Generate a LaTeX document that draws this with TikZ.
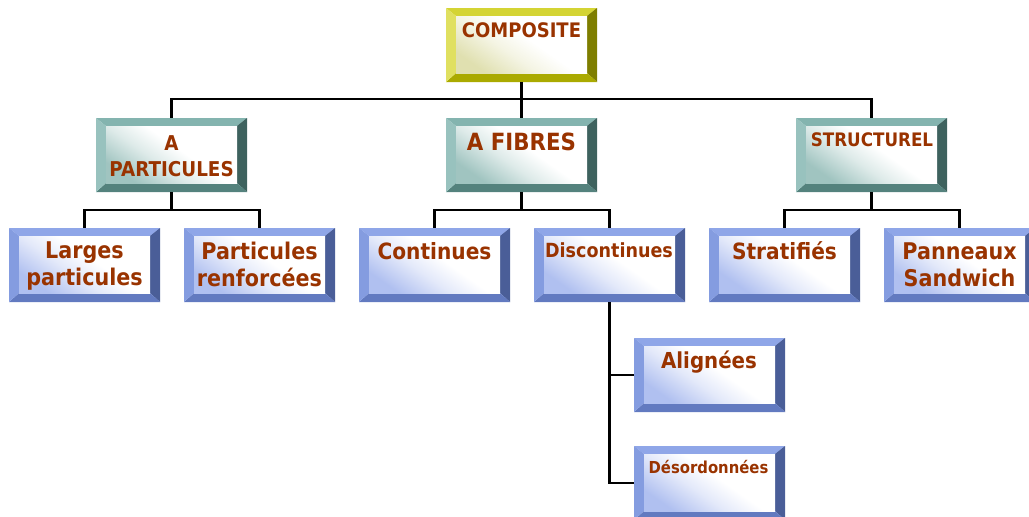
\documentclass[tikz,border=0pt]{standalone}
\usepackage{fontspec}
\newfontfamily\boxfont{DejaVu Sans}[FakeStretch=0.9]
\usetikzlibrary{calc}
\definecolor{txtc}{RGB}{153,51,0}
% blue
\definecolor{blueT}{RGB}{143,166,232}
\definecolor{blueL}{RGB}{132,156,224}
\definecolor{blueB}{RGB}{98,122,192}
\definecolor{blueR}{RGB}{74,94,152}
\definecolor{blueF}{RGB}{176,192,240}
% teal
\definecolor{tealT}{RGB}{132,180,175}
\definecolor{tealL}{RGB}{152,194,190}
\definecolor{tealB}{RGB}{84,130,125}
\definecolor{tealR}{RGB}{62,98,94}
\definecolor{tealF}{RGB}{160,196,192}
% yellow
\definecolor{yelT}{RGB}{212,212,52}
\definecolor{yelL}{RGB}{224,224,96}
\definecolor{yelB}{RGB}{170,170,0}
\definecolor{yelR}{RGB}{126,126,0}
\definecolor{yelF}{RGB}{224,224,176}
\colorlet{facecol}{blueF}
\pgfdeclareverticalshading[facecol]{faceshade}{100bp}{color(0bp)=(facecol); color(25bp)=(facecol); color(42bp)=(facecol!35!white); color(55bp)=(white); color(100bp)=(white)}
\tikzset{
  bev/.style={minimum width=151pt, minimum height=74pt, inner sep=0pt, outer sep=0pt,
    path picture={
      \coordinate (o1) at (path picture bounding box.north west);
      \coordinate (o2) at (path picture bounding box.north east);
      \coordinate (o3) at (path picture bounding box.south east);
      \coordinate (o4) at (path picture bounding box.south west);
      \coordinate (i1) at ($(o1)+(10,8)$);
      \coordinate (i2) at ($(o2)+(-10,8)$);
      \coordinate (i3) at ($(o3)+(-10,-9)$);
      \coordinate (i4) at ($(o4)+(10,-9)$);
      \fill[#1T] (o1) -- (o2) -- (i2) -- (i1) -- cycle;
      \fill[#1R] (o2) -- (o3) -- (i3) -- (i2) -- cycle;
      \fill[#1B] (o3) -- (o4) -- (i4) -- (i3) -- cycle;
      \fill[#1L] (o4) -- (o1) -- (i1) -- (i4) -- cycle;
      \colorlet{facecol}{#1F}
      \shade[shading=faceshade, shading angle=-35] (i1) rectangle (i3);
    }},
  lbl/.style={inner sep=0pt, text=txtc, align=center},
  conn/.style={draw=black, line width=2.2pt}
}
\newcommand{\fs}[2]{\boxfont\bfseries\fontsize{#1}{#2}\selectfont}
\begin{document}
\begin{tikzpicture}[x=1pt,y=-1pt]
\useasboundingbox (0,0) rectangle (1029,517);
\clip (0,0) rectangle (1029,517);
% boxes (top-left corners)
\node[bev=yel,  anchor=north west] (comp)   at (446,8)   {};
\node[bev=teal, anchor=north west] (apart)  at (96,118)  {};
\node[bev=teal, anchor=north west] (afib)   at (446,118) {};
\node[bev=teal, anchor=north west] (struct) at (796,118) {};
\node[bev=blue, anchor=north west] (larg)   at (9,228)   {};
\node[bev=blue, anchor=north west] (prenf)  at (184,228) {};
\node[bev=blue, anchor=north west] (cont)   at (359,228) {};
\node[bev=blue, anchor=north west] (disc)   at (534,228) {};
\node[bev=blue, anchor=north west] (strat)  at (709,228) {};
\node[bev=blue, anchor=north west] (pann)   at (884,228) {};
\node[bev=blue, anchor=north west] (alig)   at (634,338) {};
\node[bev=blue, anchor=north west] (deso)   at (634,446) {};
% labels
\node[lbl, anchor=base,  font={\fs{20}{24}}]   (tcomp)   at (521.5,37)  {COMPOSITE};
\node[lbl, anchor=north, font={\fs{20.4}{26}}] (tapart)  at (171.5,135) {A\\PARTICULES};
\node[lbl, anchor=base,  font={\fs{23.7}{28}}] (tafib)   at (521.5,150) {A FIBRES};
\node[lbl, anchor=base,  font={\fs{18.6}{22}}] (tstruct) at (872,146)   {STRUCTUREL};
\node[lbl, anchor=north, font={\fs{23}{27}}]   (tlarg)   at (84.5,242)  {Larges\\particules};
\node[lbl, anchor=north, font={\fs{23}{27}}]   (tprenf)  at (259.5,241.5) {Particules\\renforcées};
\node[lbl, anchor=base,  font={\fs{22.4}{27}}] (tcont)   at (434.5,259) {Continues};
\node[lbl, anchor=base,  font={\fs{19.5}{23}}] (tdisc)   at (609,257)   {Discontinues};
\node[lbl, anchor=base,  font={\fs{22.4}{27}}] (tstrat)  at (784.5,259) {Stratifiés};
\node[lbl, anchor=north, font={\fs{23}{27}}]   (tpann)   at (959.5,243) {Panneaux\\Sandwich};
\node[lbl, anchor=base,  font={\fs{22}{26}}]   (talig)   at (709,368)   {Alignées};
\node[lbl, anchor=base,  font={\fs{16.5}{20}}] (tdeso)   at (708.5,473) {Désordonnées};
% connectors
\draw[conn] (comp.south) -- (afib.north);
\draw[conn] (comp.south) -- ++(0,17) -| (apart.north);
\draw[conn] (comp.south) -- ++(0,17) -| (struct.north);
\draw[conn] (apart.south) -- ++(0,18) -| (larg.north);
\draw[conn] (apart.south) -- ++(0,18) -| (prenf.north);
\draw[conn] (afib.south) -- ++(0,18) -| (cont.north);
\draw[conn] (afib.south) -- ++(0,18) -| (disc.north);
\draw[conn] (struct.south) -- ++(0,18) -| (strat.north);
\draw[conn] (struct.south) -- ++(0,18) -| (pann.north);
\draw[conn] (disc.south) |- (alig.west);
\draw[conn] (disc.south) |- (deso.west);
\end{tikzpicture}
\end{document}
